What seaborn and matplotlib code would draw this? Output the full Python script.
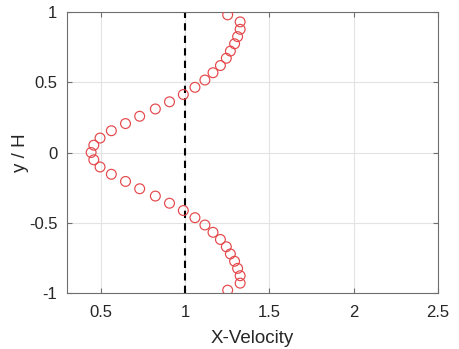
import matplotlib
matplotlib.use("Agg")
import matplotlib.pyplot as plt
import seaborn as sns
import pandas as pd

y_over_h = [0.98, 0.93, 0.877, 0.825, 0.774, 0.722, 0.671, 0.619, 0.568, 0.516,
            0.464, 0.413, 0.361, 0.31, 0.258, 0.206, 0.155, 0.103, 0.052, 0.0,
            -0.052, -0.103, -0.155, -0.206, -0.258, -0.31, -0.361, -0.413, -0.464,
            -0.516, -0.568, -0.619, -0.671, -0.722, -0.774, -0.825, -0.877, -0.93, -0.98]
x_velocity = [1.253, 1.327, 1.327, 1.312, 1.294, 1.269, 1.245, 1.21, 1.166, 1.118,
              1.059, 0.99, 0.908, 0.824, 0.731, 0.647, 0.563, 0.496, 0.459, 0.443,
              0.459, 0.496, 0.563, 0.647, 0.731, 0.824, 0.908, 0.99, 1.059,
              1.118, 1.166, 1.21, 1.245, 1.269, 1.294, 1.312, 1.327, 1.327, 1.253]
ref_x = [1.0]
x_ticks = [0.5, 1, 1.5, 2, 2.5]
x_tick_labels = ["0.5", "1", "1.5", "2", "2.5"]
y_ticks = [-1, -0.5, 0, 0.5, 1]
y_tick_labels = ["-1", "-0.5", "0", "0.5", "1"]

sns.set_theme(style="whitegrid")
plt.rcParams['font.family'] = ['Liberation Sans', 'DejaVu Sans']

df = pd.DataFrame({"x": x_velocity, "y": y_over_h})

fig = plt.figure(figsize=(4.59, 3.49), dpi=100)
ax = fig.add_axes([0.146, 0.1605, 0.808, 0.805])

sns.scatterplot(data=df, x="x", y="y", ax=ax, marker="o", s=50,
                facecolor="none", edgecolor="#e4474a", linewidth=0.85, zorder=3)
for xv in ref_x:
    ax.axvline(xv, color="black", linestyle=(0, (3.5, 2.5)), linewidth=1.5, zorder=2)

ax.set_xlim(0.3, 2.5)
ax.set_ylim(-1, 1)
ax.set_xticks(x_ticks)
ax.set_xticklabels(x_tick_labels)
ax.set_yticks(y_ticks)
ax.set_yticklabels(y_tick_labels)
ax.set_xlabel("X-Velocity", fontsize=13.5, color="#262626", labelpad=7)
ax.set_ylabel("y / H", fontsize=13.5, color="#262626", labelpad=0)

ax.grid(True, color="#e3e3e3", linewidth=0.8)
ax.set_facecolor("white")
for s in ax.spines.values():
    s.set_visible(True)
    s.set_color("#6e6e6e")
    s.set_linewidth(0.8)
ax.tick_params(axis="both", which="both", direction="in", length=3.5, width=0.8,
               color="#6e6e6e", labelsize=12, labelcolor="#262626",
               top=True, right=True, bottom=True, left=True)
ax.tick_params(axis="x", pad=9)
ax.tick_params(axis="y", pad=7)

fig.savefig("out.png", dpi=100, facecolor="white")
